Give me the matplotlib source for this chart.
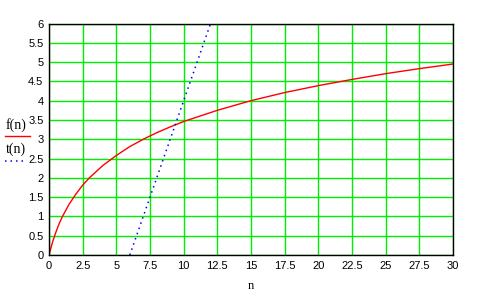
import matplotlib
matplotlib.use("Agg")
import matplotlib.pyplot as plt
from matplotlib.lines import Line2D

# f(n) values
n_f = [0, 0.25, 0.5, 0.75, 1, 1.5, 2, 2.5, 3, 4, 5, 6, 7, 8, 9, 10, 12.5, 15, 17.5, 20, 22.5, 25, 27.5, 30]
f_vals = [0, 0.32, 0.58, 0.81, 1.0, 1.32, 1.58, 1.81, 2.0, 2.32, 2.58, 2.81, 3.0, 3.17, 3.32, 3.46,
          3.75, 4.0, 4.21, 4.39, 4.55, 4.70, 4.83, 4.95]
# t(n) line
n_t = [6, 12]
t_vals = [0, 6]

x_ticks = [0, 2.5, 5, 7.5, 10, 12.5, 15, 17.5, 20, 22.5, 25, 27.5, 30]
x_labels = ["0", "2.5", "5", "7.5", "10", "12.5", "15", "17.5", "20", "22.5", "25", "27.5", "30"]
y_ticks = [0, 0.5, 1, 1.5, 2, 2.5, 3, 3.5, 4, 4.5, 5, 5.5, 6]
y_labels = ["0", "0.5", "1", "1.5", "2", "2.5", "3", "3.5", "4", "4.5", "5", "5.5", "6"]

fig = plt.figure(figsize=(4.78, 2.92), dpi=100)
ax = fig.add_axes([49/478, 1-255/292, (453-49)/478, (255-23.5)/292])

ax.plot(n_f, f_vals, color="#ff0000", lw=1.0, zorder=3)
ax.plot(n_t, t_vals, color="#0000ff", lw=1.1, linestyle=(0, (1, 2.6)), zorder=3)

ax.set_xlim(0, 30)
ax.set_ylim(0, 6)
ax.set_xticks(x_ticks)
ax.set_xticklabels(x_labels)
ax.set_yticks(y_ticks)
ax.set_yticklabels(y_labels)
ax.grid(True, color="#00ee00", lw=1.0)
ax.set_axisbelow(True)
ax.tick_params(length=0, pad=4, labelsize=8)
for lab in ax.get_xticklabels() + ax.get_yticklabels():
    lab.set_fontfamily("Liberation Sans")
for s in ax.spines.values():
    s.set_color("black")
    s.set_linewidth(1.0)
    s.set_zorder(4)

ax.set_xlabel("n", fontfamily="Liberation Serif", fontsize=9, labelpad=7)

# legend at left
fig.text(16/478, 1-125/292, "f(n)", fontfamily="Liberation Serif", fontsize=10, ha="center", va="center")
fig.add_artist(Line2D([5/478, 30/478], [1-136/292, 1-136/292], color="#ff0000", lw=1.0))
fig.text(16/478, 1-149/292, "t(n)", fontfamily="Liberation Serif", fontsize=10, ha="center", va="center")
fig.add_artist(Line2D([5/478, 27/478], [1-161/292, 1-161/292], color="#0000ff", lw=1.1, linestyle=(0, (1, 2.6))))

fig.savefig("out.png", dpi=100)
